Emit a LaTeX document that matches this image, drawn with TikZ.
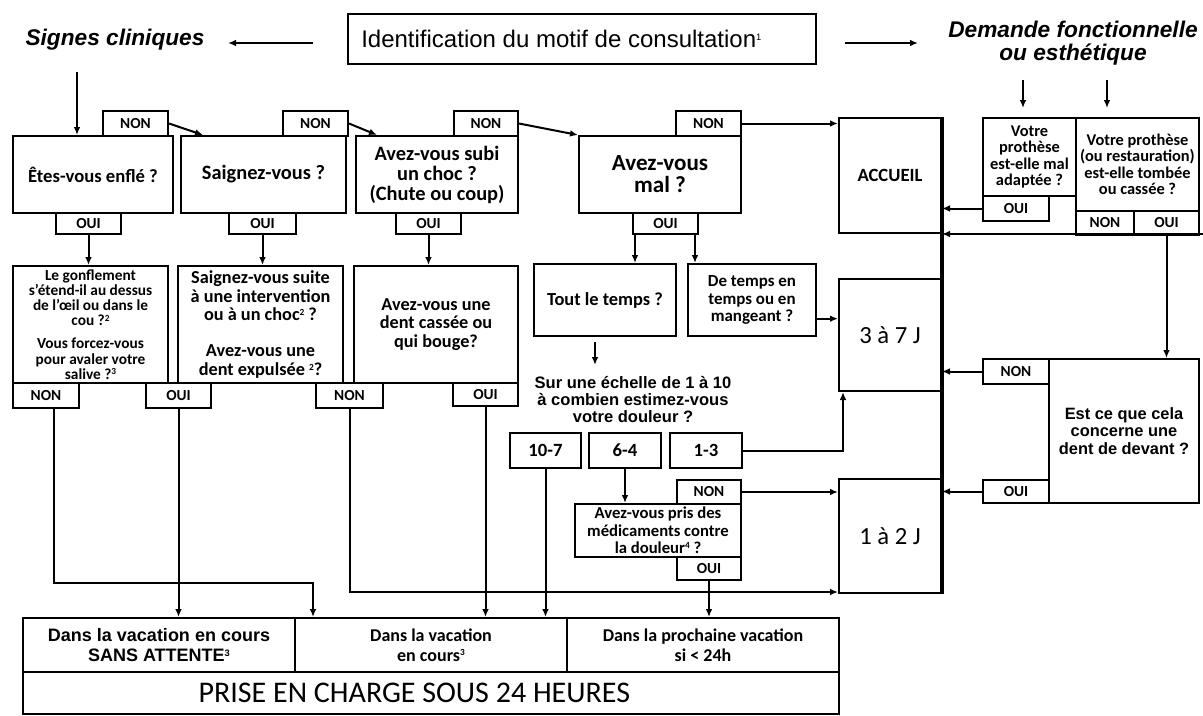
\documentclass[tikz,border=0pt]{standalone}
\usepackage{fontspec}
\setmainfont{Carlito}
\newfontfamily\arial{Liberation Sans}
\usetikzlibrary{arrows.meta}
\newdimen\px \px=0.75pt
\newcommand\supr[1]{\raisebox{0.3em}{\fontsize{7}{7}\selectfont #1}}
\begin{document}
\begin{tikzpicture}[x=0.75pt,y=-0.75pt,
  wh/.style 2 args={minimum width=#1\px, minimum height=#2\px},
  box/.style={draw, line width=1.5pt, inner sep=1pt, align=center, anchor=north west, font=\bfseries\fontsize{14}{15}\selectfont},
  tab/.style={box, font=\bfseries\fontsize{11.5}{12}\selectfont},
  arr/.style={line width=1.5pt, -{Latex[length=6pt,width=5pt]}},
  lbl/.style={align=center, inner sep=0pt},
]
\useasboundingbox (0,0) rectangle (1203,715);
\fill[white] (0,0) rectangle (1203,715);

% ---- top titles
\node[lbl, font=\arial\bfseries\itshape\fontsize{17}{17}\selectfont] (sig) at (115,40) {Signes cliniques};
\node[box, wh={468}{50}, font=\arial\fontsize{18}{18}\selectfont] (ident) at (347,13) {Identification du motif de consultation\supr{1}\hspace*{31pt}};
\node[lbl, font=\arial\bfseries\itshape\fontsize{17}{17.2}\selectfont] (dem) at (1073,43) {Demande fonctionnelle\\ou esthétique};
\coordinate (sA) at (313,43); \coordinate (sB) at (228,43);
\coordinate (dA) at (845,43); \coordinate (dB) at (918,43);
\draw[arr] (sA) -- (sB);
\draw[arr] (dA) -- (dB);

% ---- row 1
\node[box, wh={160}{77}] (q1) at (12,135) {Êtes-vous enflé ?};
\node[tab, wh={65}{25}] (q1n) at (102,110) {NON};
\node[tab, wh={65}{21}] (q1o) at (55,212) {OUI};
\node[box, wh={165}{77}, font=\bfseries\fontsize{15.3}{15}\selectfont] (q2) at (180,135) {Saignez-vous ?};
\node[tab, wh={65}{25}] (q2n) at (282,110) {NON};
\node[tab, wh={67}{21}] (q2o) at (228,212) {OUI};
\node[box, wh={162}{77}, font=\bfseries\fontsize{15.3}{15}\selectfont] (q3) at (355,135) {Avez-vous subi\\un choc ?\\(Chute ou coup)};
\node[tab, wh={64}{25}] (q3n) at (453,110) {NON};
\node[tab, wh={65}{21}] (q3o) at (395,212) {OUI};
\node[box, wh={162}{77}, font=\bfseries\fontsize{17.3}{16.5}\selectfont] (q4) at (578,135) {Avez-vous\\mal ?};
\node[tab, wh={65}{25}] (q4n) at (675,110) {NON};
\node[tab, wh={65}{21}] (q4o) at (632,212) {OUI};

\coordinate (s1) at (77,72);
\draw[arr] (s1) -- (s1 |- q1.north);
\draw[arr] (q1n.east) -- ([xshift=17.25pt]q2.north west);
\draw[arr] (q2n.east) -- ([xshift=16.5pt]q3.north west);
\draw[arr] (q3n.east) -- (q4.north west);

% ---- right column (destinations)
\node[box, wh={102}{115}] (acc) at (838,117) {ACCUEIL};
\node[box, wh={102}{112}, font=\fontsize{18.5}{19}\selectfont] (s37) at (838,278) {3 à 7 J};
\node[box, wh={102}{114}, font=\fontsize{18.5}{19}\selectfont] (j12) at (838,478) {1 à 2 J};
\draw[line width=2.3pt] (acc.north east) -- (j12.south east);
\draw[arr] (q4n.east) -- (q4n.east -| acc.west);

% ---- row 2
\node[box, wh={155}{117}, font=\bfseries\fontsize{11.5}{11.4}\selectfont] (r1) at (12,265) {Le gonflement\\s'étend-il au dessus\\de  l'œil ou dans le\\cou ?\supr{2}\\[6pt]Vous forcez-vous\\pour avaler votre\\salive ?\supr{3}};
\node[tab, wh={66}{25}] (r1n) at (12,382) {NON};
\node[tab, wh={65}{25}] (r1o) at (145,382) {OUI};
\node[box, wh={165}{117}, font=\bfseries\fontsize{13.7}{14}\selectfont] (r2) at (177,265) {Saignez-vous suite\\à une intervention\\ou à un choc\supr{2} ?\\[13pt]Avez-vous une\\dent expulsée \supr{2}?};
\node[tab, wh={67}{25}] (r2n) at (315,382) {NON};
\node[box, wh={164}{117}, font=\bfseries\fontsize{13.7}{14}\selectfont] (r3) at (353,265) {Avez-vous une\\dent cassée ou\\qui bouge?};
\node[tab, wh={65}{23}] (r3o) at (452,382) {OUI};

\draw[arr] (q1o.south) -- (q1o.south |- r1.north);
\draw[arr] (q2o.south) -- (q2o.south |- r2.north);
\draw[arr] (q3o.south) -- (q3o.south |- r3.north);

\node[box, wh={142}{72}, font=\bfseries\fontsize{13.8}{14}\selectfont] (tt) at (533,263) {Tout le temps ?};
\node[box, wh={128}{72}, font=\bfseries\fontsize{12.7}{13}\selectfont] (dt) at (687,263) {De temps en\\temps ou en\\mangeant ?};
\coordinate (o4a) at ([xshift=2.25pt]q4o.south west);
\coordinate (o4b) at ([xshift=-3pt]q4o.south east);
\draw[arr] (o4a) -- (o4a |- tt.north);
\draw[arr] (o4b) -- (o4b |- dt.north);
\draw[arr] ([yshift=-14pt]dt.east) -- ([yshift=-14pt]dt.east -| s37.west);

\coordinate (tA) at (595,342); \coordinate (tB) at (595,365);
\draw[arr] (tA) -- (tB);
\node[lbl, font=\arial\bfseries\fontsize{12.4}{12.75}\selectfont] (ech) at (633,400) {Sur une échelle de 1 à 10\\à combien estimez-vous\\votre douleur ?};

\node[box, wh={71}{35}] (b107) at (509,432) {10-7};
\node[box, wh={72}{35}] (b64) at (588,432) {6-4};
\node[box, wh={72}{35}] (b13) at (669,432) {1-3};
\node[box, wh={166}{53}, font=\bfseries\fontsize{12.5}{13}\selectfont] (med) at (574,503) {Avez-vous pris des\\médicaments contre\\la douleur\supr{4} ?};
\node[tab, wh={64}{24}] (medn) at (676,479) {NON};
\node[tab, wh={64}{23}] (medo) at (676,556) {OUI};

\draw[arr] (b64.south) -- (b64.south |- med.north);
\draw[arr] (b13.east) -| ([xshift=3.75pt]s37.south west);
\draw[arr] (medn.east) -- (medn.east -| j12.west);

% ---- right side questions
\node[box, wh={93}{78}, font=\bfseries\fontsize{12.3}{12.3}\selectfont] (p1) at (982,117) {Votre\\prothèse\\est-elle mal\\adaptée ?};
\node[tab, wh={66}{25}] (p1o) at (982,195) {OUI};
\node[box, wh={123}{93}, font=\bfseries\fontsize{12.3}{12.3}\selectfont] (p2) at (1075,117) {Votre prothèse\\(ou restauration)\\est-elle tombée\\ou cassée ?};
\node[tab, wh={58}{24}] (p2n) at (1075,210) {NON};
\node[tab, wh={65}{24}] (p2o) at (1133,210) {OUI};
\node[box, wh={150}{144}, font=\arial\bfseries\fontsize{12.3}{13}\selectfont] (dev) at (1048,358) {Est ce que cela\\concerne une\\dent de devant ?};
\node[tab, wh={66}{25}] (devn) at (982,358) {NON};
\node[tab, wh={66}{23}] (devo) at (982,479) {OUI};

\coordinate (dm1) at (1023,80); \coordinate (dm2) at (1107,80);
\coordinate (pe) at (1203,234);
\draw[arr] (dm1) -- ++(0,28);
\draw[arr] (dm2) -- ++(0,28);
\draw[arr] (p1o.west) -- (p1o.west -| acc.east);
\draw[arr] (pe) -- (pe -| acc.east);
\draw[arr] (p2o.south) -- (p2o.south |- dev.north);
\draw[arr] (devn.west) -- (devn.west -| s37.east);
\draw[arr] (devo.west) -- (devo.west -| j12.east);

% ---- bottom table
\node[box, wh={272}{54}, font=\arial\bfseries\fontsize{13.5}{15}\selectfont] (c1) at (22,617) {Dans la vacation en cours\\SANS ATTENTE\supr{3}};
\node[box, wh={272}{54}, font=\bfseries\fontsize{13.5}{15}\selectfont] (c2) at (294,617) {Dans la vacation\\en cours\supr{3}};
\node[box, wh={272}{54}, font=\bfseries\fontsize{13.5}{15}\selectfont] (c3) at (566,617) {Dans la prochaine vacation\\si < 24h};
\node[box, wh={816}{42}, font=\fontsize{22.5}{23}\selectfont] (c4) at (22,671) {PRISE EN CHARGE SOUS 24 HEURES\hspace*{25pt}};

% ---- links to the table
\coordinate (n1) at ([xshift=6pt]r1n.south);
\coordinate (n1b) at (313,583);
\draw[arr] (n1) |- (n1b) -- (n1b |- c2.north);
\draw[arr] (r1o.south) -- (r1o.south |- c1.north);
\draw[arr] (r2n.south) |- ([yshift=1.5pt]j12.south west);
\draw[arr] (r3o.south) -- (r3o.south |- c2.north);
\draw[arr] (b107.south) -- (b107.south |- c2.north);
\draw[arr] (medo.south) -- (medo.south |- c3.north);
\end{tikzpicture}
\end{document}
